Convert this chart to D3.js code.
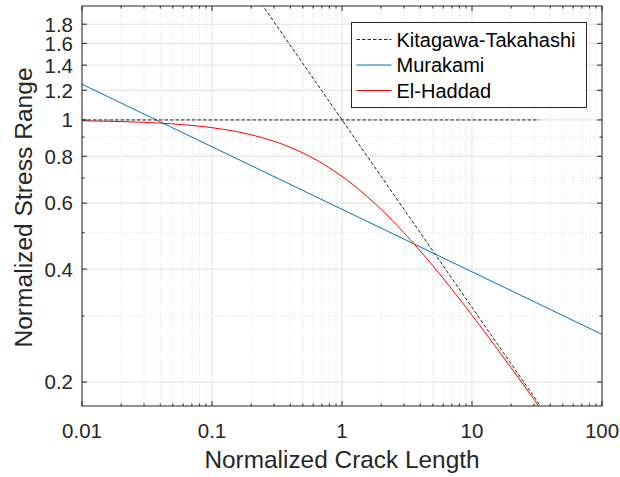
<!DOCTYPE html>
<html>
<head>
<meta charset="utf-8">
<script src="https://cdn.jsdelivr.net/npm/d3@7"></script>
<style>
  html, body { margin: 0; padding: 0; background: #fff; }
  svg { display: block; font-family: "Liberation Sans", Arial, Helvetica, sans-serif; }
</style>
</head>
<body>
<svg id="chart" width="620" height="477"></svg>
<script>
// Normalized crack length / stress range data (log-log)
const xDomain = [0.01, 100];
const yDomain = [0.1726, 2.013];

const xTickValues = [0.01, 0.1, 1, 10, 100];
const xTickLabels = ["0.01", "0.1", "1", "10", "100"];
const yTickValues = [0.2, 0.4, 0.6, 0.8, 1, 1.2, 1.4, 1.6, 1.8];
const yTickLabels = ["0.2", "0.4", "0.6", "0.8", "1", "1.2", "1.4", "1.6", "1.8"];
const yMinorValues = [0.3, 0.5, 0.7, 0.9];

// Kitagawa-Takahashi: endurance plateau and LEFM threshold line
const ktPlateauX = [0.01, 33];
const ktPlateauY = [1, 1];
const ktSlopeX = [0.24, 1, 33.5];
const ktSlopeY = [2.041, 1, 0.1728];

// Murakami sqrt(area) relation
const murX = [0.01, 100];
const murY = [1.245, 0.268];

// El-Haddad curve
const ehX = [0.01, 0.02, 0.03, 0.05, 0.07, 0.1, 0.15, 0.2, 0.3, 0.4, 0.5, 0.7, 1, 1.5, 2, 3, 4, 5, 7, 10, 15, 20, 25, 30, 34];
const ehY = [0.9950, 0.9901, 0.9853, 0.9759, 0.9667, 0.9535, 0.9325, 0.9129, 0.8771, 0.8452, 0.8165, 0.7670, 0.7071, 0.6325, 0.5774, 0.5000, 0.4472, 0.4082, 0.3536, 0.3015, 0.2500, 0.2182, 0.1961, 0.1796, 0.1690];

const seriesNames = ["Kitagawa-Takahashi", "Murakami", "El-Haddad"];
const seriesColors = ["#262626", "#0072BD", "#FF0000"];

const margin = { left: 82, right: 18, top: 6, bottom: 71 };
const W = 620, H = 477;
const plotW = W - margin.left - margin.right;
const plotH = H - margin.top - margin.bottom;

const svg = d3.select("#chart");
const g = svg.append("g").attr("transform", `translate(${margin.left},${margin.top})`);

const x = d3.scaleLog().domain(xDomain).range([0, plotW]);
const y = d3.scaleLog().domain(yDomain).range([plotH, 0]);

// minor x positions: 2..9 in each decade
const xMinor = [];
for (let e = -2; e < 2; e++) {
  for (let k = 2; k <= 9; k++) xMinor.push(k * Math.pow(10, e));
}

// grid
const grid = g.append("g");
grid.selectAll(".xminor").data(xMinor).join("line")
  .attr("x1", d => x(d)).attr("x2", d => x(d))
  .attr("y1", 0).attr("y2", plotH)
  .attr("stroke", "#dcdcdc").attr("stroke-width", 1).attr("stroke-dasharray", "1,2");
grid.selectAll(".yminor").data(yMinorValues).join("line")
  .attr("x1", 0).attr("x2", plotW)
  .attr("y1", d => y(d)).attr("y2", d => y(d))
  .attr("stroke", "#dcdcdc").attr("stroke-width", 1).attr("stroke-dasharray", "1,2");
grid.selectAll(".xmajor").data(xTickValues).join("line")
  .attr("x1", d => x(d)).attr("x2", d => x(d))
  .attr("y1", 0).attr("y2", plotH)
  .attr("stroke", "#e1e1e1").attr("stroke-width", 1);
grid.selectAll(".ymajor").data(yTickValues).join("line")
  .attr("x1", 0).attr("x2", plotW)
  .attr("y1", d => y(d)).attr("y2", d => y(d))
  .attr("stroke", "#e1e1e1").attr("stroke-width", 1);

// data lines
svg.append("defs").append("clipPath").attr("id", "clip")
  .append("rect").attr("width", plotW).attr("height", plotH);
const plot = g.append("g").attr("clip-path", "url(#clip)");
const line = d3.line().x(d => x(d[0])).y(d => y(d[1]));
const smooth = d3.line().x(d => x(d[0])).y(d => y(d[1])).curve(d3.curveMonotoneX);

plot.append("path").datum(d3.zip(murX, murY)).attr("d", line)
  .attr("fill", "none").attr("stroke", seriesColors[1]).attr("stroke-width", 1);
plot.append("path").datum(d3.zip(ehX, ehY)).attr("d", smooth)
  .attr("fill", "none").attr("stroke", seriesColors[2]).attr("stroke-width", 1);
plot.append("path").datum(d3.zip(ktPlateauX, ktPlateauY)).attr("d", line)
  .attr("fill", "none").attr("stroke", seriesColors[0]).attr("stroke-width", 1)
  .attr("stroke-dasharray", "3.5,2");
plot.append("path").datum(d3.zip(ktSlopeX, ktSlopeY)).attr("d", line)
  .attr("fill", "none").attr("stroke", seriesColors[0]).attr("stroke-width", 1)
  .attr("stroke-dasharray", "3.5,2");

// axes box with inward ticks
const axisColor = "#262626";
const axes = g.append("g");
const majorLen = 5, minorLen = 2.5;
function tickLines(vals, len, horizontal) {
  vals.forEach(v => {
    if (horizontal) {
      const px = x(v);
      axes.append("line").attr("x1", px).attr("x2", px).attr("y1", plotH).attr("y2", plotH - len)
        .attr("stroke", axisColor);
      axes.append("line").attr("x1", px).attr("x2", px).attr("y1", 0).attr("y2", len)
        .attr("stroke", axisColor);
    } else {
      const py = y(v);
      axes.append("line").attr("x1", 0).attr("x2", len).attr("y1", py).attr("y2", py)
        .attr("stroke", axisColor);
      axes.append("line").attr("x1", plotW).attr("x2", plotW - len).attr("y1", py).attr("y2", py)
        .attr("stroke", axisColor);
    }
  });
}
tickLines(xTickValues, majorLen, true);
tickLines(xMinor, minorLen, true);
tickLines(yTickValues, majorLen, false);
tickLines(yMinorValues, minorLen, false);
axes.append("rect").attr("x", 0).attr("y", 0).attr("width", plotW).attr("height", plotH)
  .attr("fill", "none").attr("stroke", axisColor).attr("stroke-width", 1);

// tick labels
g.selectAll(".xlab").data(xTickValues).join("text")
  .attr("x", d => x(d)).attr("y", plotH + 32)
  .attr("text-anchor", "middle").attr("font-size", "20.5px").attr("fill", "#262626")
  .text((d, i) => xTickLabels[i]);
g.selectAll(".ylab").data(yTickValues).join("text")
  .attr("x", -9).attr("y", d => y(d)).attr("dy", "0.36em")
  .attr("text-anchor", "end").attr("font-size", "20.5px").attr("fill", "#262626")
  .text((d, i) => yTickLabels[i]);

// axis titles
svg.append("text").attr("x", margin.left + plotW / 2).attr("y", 468)
  .attr("text-anchor", "middle").attr("font-size", "24.4px").attr("fill", "#262626")
  .text("Normalized Crack Length");
svg.append("text")
  .attr("transform", "translate(32,207.5) rotate(-90)")
  .attr("text-anchor", "middle").attr("font-size", "24.6px").attr("fill", "#262626")
  .text("Normalized Stress Range");

// legend
const leg = svg.append("g").attr("transform", "translate(351.5,22.5)");
leg.append("rect").attr("width", 235).attr("height", 85)
  .attr("fill", "#fff").attr("stroke", axisColor).attr("stroke-width", 1);
seriesNames.forEach((name, i) => {
  const cy = 17 + i * 25.5;
  const l = leg.append("line").attr("x1", 5).attr("x2", 40).attr("y1", cy).attr("y2", cy)
    .attr("stroke", seriesColors[i]).attr("stroke-width", 1);
  if (i === 0) l.attr("stroke-dasharray", "3.5,2");
  leg.append("text").attr("x", 45).attr("y", cy).attr("dy", "0.36em")
    .attr("font-size", "20px").attr("fill", "#000").text(name);
});
</script>
</body>
</html>
